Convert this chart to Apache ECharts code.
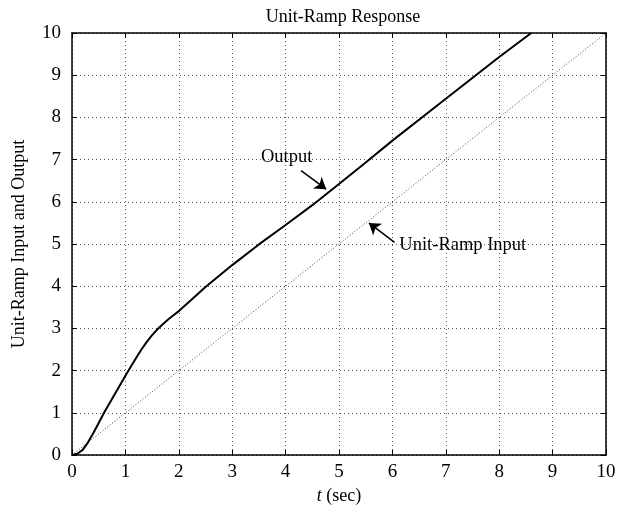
<!DOCTYPE html>
<html>
<head>
<meta charset="utf-8">
<script src="https://cdn.jsdelivr.net/npm/echarts@6/dist/echarts.min.js"></script>
<style>
  html, body { margin: 0; padding: 0; background: #fff; }
  #main { width: 623px; height: 511px; }
</style>
</head>
<body>
<div id="main"></div>
<script>
// values
var rampT = [0, 10];
var rampY = [0, 10];

var outT = [0, 0.1, 0.2, 0.3, 0.4, 0.5, 0.6, 0.7, 0.8, 0.9, 1.0, 1.1, 1.2, 1.3, 1.4, 1.5, 1.6, 1.7, 1.8, 1.9, 2.0, 2.2, 2.5, 3, 3.5, 4, 4.5, 5, 5.5, 6, 7, 8, 8.6];
var outY = [0, 0.03, 0.12, 0.3, 0.52, 0.76, 1.0, 1.22, 1.44, 1.66, 1.88, 2.09, 2.3, 2.5, 2.68, 2.84, 2.98, 3.1, 3.21, 3.31, 3.41, 3.64, 3.98, 4.5, 4.99, 5.45, 5.92, 6.42, 6.93, 7.45, 8.44, 9.43, 10];

var tickLabels = ['0', '1', '2', '3', '4', '5', '6', '7', '8', '9', '10'];

var FONT = 'Liberation Serif';

function pairs(xs, ys) {
  return xs.map(function (x, i) { return [x, ys[i]]; });
}

var chart = echarts.init(document.getElementById('main'), null, { renderer: 'canvas' });

var tick = { show: true, inside: true, length: 5, lineStyle: { color: '#000' } };
var line = { show: true, onZero: false, lineStyle: { color: '#000', width: 1.5 } };
var grid = { show: true, lineStyle: { color: '#555', type: [1, 3], width: 1 } };

var option = {
  backgroundColor: '#fff',
  animation: false,
  title: {
    text: 'Unit-Ramp Response',
    left: 338,
    textAlign: 'center',
    top: 3,
    textStyle: { fontFamily: FONT, fontWeight: 'normal', fontSize: 18, color: '#000' }
  },
  grid: { left: 72, right: 17, top: 33, bottom: 56 },
  xAxis: [{
    type: 'value', min: 0, max: 10, interval: 1,
    name: '{i|t} (sec)',
    nameLocation: 'middle',
    nameGap: 30,
    nameTextStyle: {
      fontFamily: FONT, fontSize: 18, color: '#000',
      rich: { i: { fontFamily: FONT, fontSize: 18, fontStyle: 'italic', color: '#000' } }
    },
    axisLine: line, axisTick: tick, splitLine: grid,
    axisLabel: {
      fontFamily: FONT, fontSize: 19, color: '#000', margin: 8,
      formatter: function (v) { return tickLabels[Math.round(v)]; }
    }
  }, {
    type: 'value', min: 0, max: 10, interval: 1, position: 'top',
    axisLine: line, axisTick: tick, axisLabel: { show: false }, splitLine: { show: false }
  }],
  yAxis: [{
    type: 'value', min: 0, max: 10, interval: 1,
    name: 'Unit-Ramp Input and Output',
    nameLocation: 'middle',
    nameGap: 44,
    nameTextStyle: { fontFamily: FONT, fontSize: 18, color: '#000' },
    axisLine: line, axisTick: tick, splitLine: grid,
    axisLabel: {
      fontFamily: FONT, fontSize: 19, color: '#000', margin: 11,
      formatter: function (v) { return tickLabels[Math.round(v)]; }
    }
  }, {
    type: 'value', min: 0, max: 10, interval: 1, position: 'right',
    axisLine: line, axisTick: tick, axisLabel: { show: false }, splitLine: { show: false }
  }],
  series: [{
    name: 'Unit-Ramp Input',
    type: 'line',
    data: pairs(rampT, rampY),
    showSymbol: false,
    lineStyle: { color: '#444', width: 1, type: [1, 2] },
    z: 3
  }, {
    name: 'Output',
    type: 'line',
    data: pairs(outT, outY),
    showSymbol: false,
    lineStyle: { color: '#000', width: 2 },
    z: 4,
    markLine: {
      silent: true,
      symbol: ['none', 'arrow'],
      symbolSize: 11,
      label: { show: false },
      lineStyle: { color: '#000', width: 1.5, type: 'solid' },
      data: [
        [{ coord: [4.29, 6.74] }, { coord: [4.76, 6.30] }],
        [{ coord: [6.04, 5.04] }, { coord: [5.56, 5.50] }]
      ]
    },
    markPoint: {
      silent: true,
      symbol: 'circle',
      symbolSize: 0,
      label: {
        show: true, fontFamily: FONT, fontSize: 18.5, color: '#000',
        formatter: function (p) { return p.name; }
      },
      data: [
        { name: 'Output', coord: [4.02, 7.06], label: { position: 'inside' } },
        { name: 'Unit-Ramp Input', coord: [6.13, 4.98], label: { position: 'right', distance: 0 } }
      ]
    }
  }]
};

chart.setOption(option);
</script>
</body>
</html>
